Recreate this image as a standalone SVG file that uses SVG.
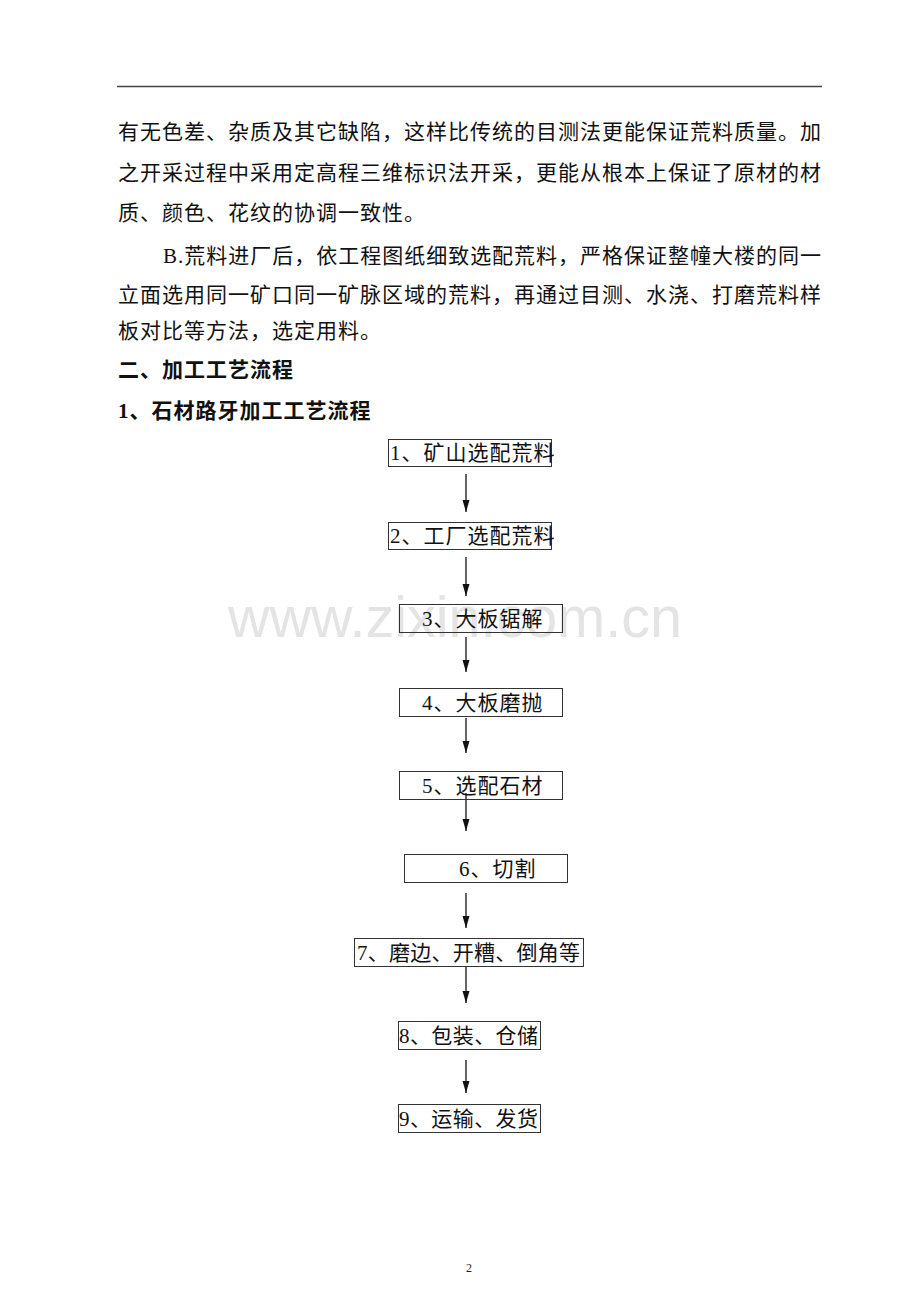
<svg xmlns="http://www.w3.org/2000/svg" width="920" height="1302" viewBox="0 0 920 1302">
<style>
.t{font-family:"Liberation Serif","Noto Sans CJK SC",serif;font-size:21px;fill:#111;letter-spacing:1px}
.h{font-weight:bold}
.box{fill:none;stroke:#333;stroke-width:1}
.conn line{stroke:#111;stroke-width:1.3;marker-end:url(#ah)}
.wm{font-family:"Liberation Sans",Arial,sans-serif;font-size:57px;fill:#e4e4e4}
</style>
<defs>
<marker id="ah" viewBox="0 -4 12 8" refX="12" refY="0" markerWidth="12" markerHeight="8" markerUnits="userSpaceOnUse" orient="auto">
<path d="M0,-3.5 L12,0 L0,3.5 z" fill="#111"/>
</marker>
</defs>
<rect width="920" height="1302" fill="#fff"/>
<line x1="117" y1="86.5" x2="822" y2="86.5" stroke="#444" stroke-width="1.5"/>
<text class="wm" x="228" y="637" textLength="454" lengthAdjust="spacingAndGlyphs">www.zixin.com.cn</text>
<g id="body">
<text class="t" x="118" y="139" textLength="704">有无色差、杂质及其它缺陷，这样比传统的目测法更能保证荒料质量。加</text>
<text class="t" x="118" y="180" textLength="704">之开采过程中采用定高程三维标识法开采，更能从根本上保证了原材的材</text>
<text class="t" x="118" y="220">质、颜色、花纹的协调一致性。</text>
<text class="t" x="163" y="263" textLength="659">B.荒料进厂后，依工程图纸细致选配荒料，严格保证整幢大楼的同一</text>
<text class="t" x="118" y="302" textLength="704">立面选用同一矿口同一矿脉区域的荒料，再通过目测、水浇、打磨荒料样</text>
<text class="t" x="118" y="338">板对比等方法，选定用料。</text>
<text class="t h" x="118" y="377">二、加工工艺流程</text>
<text class="t h" x="118" y="418">1、石材路牙加工工艺流程</text>
</g>
<g class="conn" id="connectors">
<line x1="466" y1="474" x2="466" y2="512"/>
<line x1="466" y1="557" x2="466" y2="596"/>
<line x1="466" y1="637" x2="466" y2="672"/>
<line x1="466" y1="718" x2="466" y2="753"/>
<line x1="466" y1="793" x2="466" y2="831"/>
<line x1="466" y1="893" x2="466" y2="928"/>
<line x1="466" y1="966" x2="466" y2="1003"/>
<line x1="466" y1="1060" x2="466" y2="1093"/>
</g>
<g id="n1"><rect class="box" x="388.5" y="439.5" width="163" height="27"/><text class="t" x="390" y="460">1、矿山选配荒料</text></g>
<g id="n2"><rect class="box" x="388.5" y="522.5" width="163" height="27"/><text class="t" x="390" y="543">2、工厂选配荒料</text></g>
<g id="n3"><rect class="box" x="399.5" y="604.5" width="163" height="28"/><text class="t" x="422" y="626">3、大板锯解</text></g>
<g id="n4"><rect class="box" x="399.5" y="688.5" width="163" height="28"/><text class="t" x="422" y="710">4、大板磨抛</text></g>
<g id="n5"><rect class="box" x="399.5" y="771.5" width="163" height="28"/><text class="t" x="422" y="793">5、选配石材</text></g>
<g id="n6"><rect class="box" x="404.5" y="854.5" width="163" height="28"/><text class="t" x="459" y="876">6、切割</text></g>
<g id="n7"><rect class="box" x="354.5" y="938.5" width="229" height="28"/><text class="t" x="357" y="960" textLength="224">7、磨边、开糟、倒角等</text></g>
<g id="n8"><rect class="box" x="398.5" y="1021.5" width="142" height="28"/><text class="t" x="399" y="1043" textLength="140">8、包装、仓储</text></g>
<g id="n9"><rect class="box" x="398.5" y="1104.5" width="142" height="28"/><text class="t" x="399" y="1126" textLength="140">9、运输、发货</text></g>
<text x="469" y="1272" font-family="Liberation Serif,serif" font-size="12" fill="#222" text-anchor="middle">2</text>
</svg>
